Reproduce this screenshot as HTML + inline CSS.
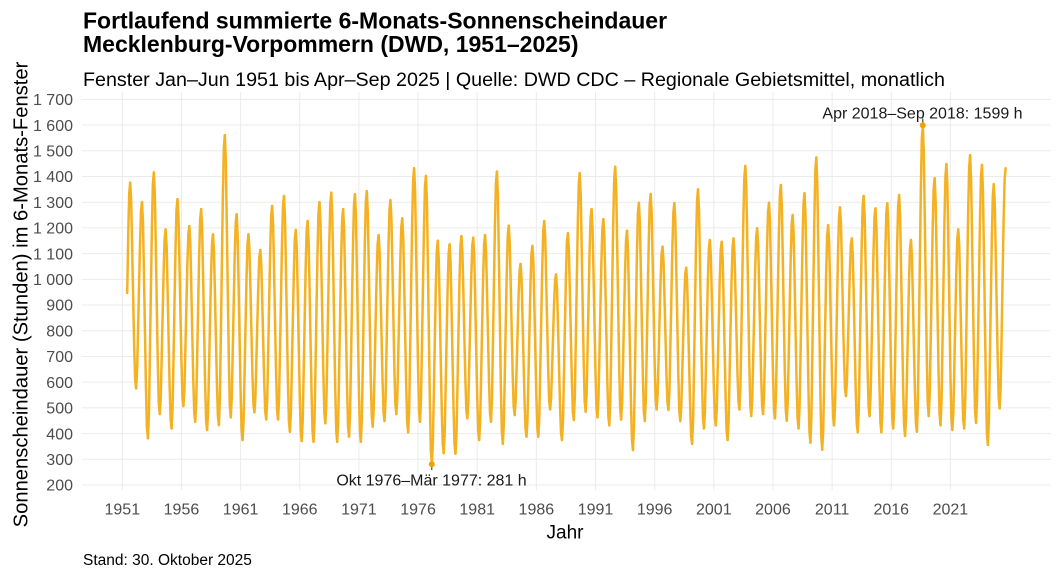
<!DOCTYPE html>
<html><head><meta charset="utf-8"><style>
html,body{margin:0;padding:0;background:#fff;}
svg{display:block;font-family:"Liberation Sans",Arial,sans-serif;}
.g line{stroke:#EBEBEB;stroke-width:1;}
.s polyline{fill:none;stroke:#F4B223;stroke-width:2.5;vector-effect:non-scaling-stroke;stroke-linejoin:round;stroke-linecap:round;}
.yt text{font-size:16px;fill:#4D4D4D;text-anchor:end;}
.xt text{font-size:16px;fill:#4D4D4D;text-anchor:middle;}
</style></head><body>
<svg width="1060" height="577" viewBox="0 0 1060 577" xmlns="http://www.w3.org/2000/svg">
<rect width="1060" height="577" fill="#fff"/>
<g class="g">
<line x1="81.7" x2="1050.7" y1="99.35" y2="99.35"/>
<line x1="81.7" x2="1050.7" y1="125.06" y2="125.06"/>
<line x1="81.7" x2="1050.7" y1="150.77" y2="150.77"/>
<line x1="81.7" x2="1050.7" y1="176.48" y2="176.48"/>
<line x1="81.7" x2="1050.7" y1="202.19" y2="202.19"/>
<line x1="81.7" x2="1050.7" y1="227.9" y2="227.9"/>
<line x1="81.7" x2="1050.7" y1="253.61" y2="253.61"/>
<line x1="81.7" x2="1050.7" y1="279.32" y2="279.32"/>
<line x1="81.7" x2="1050.7" y1="305.03" y2="305.03"/>
<line x1="81.7" x2="1050.7" y1="330.74" y2="330.74"/>
<line x1="81.7" x2="1050.7" y1="356.45" y2="356.45"/>
<line x1="81.7" x2="1050.7" y1="382.16" y2="382.16"/>
<line x1="81.7" x2="1050.7" y1="407.87" y2="407.87"/>
<line x1="81.7" x2="1050.7" y1="433.58" y2="433.58"/>
<line x1="81.7" x2="1050.7" y1="459.29" y2="459.29"/>
<line x1="81.7" x2="1050.7" y1="485" y2="485"/>
<line y1="92" y2="490" x1="122.3" x2="122.3"/>
<line y1="92" y2="490" x1="181.45" x2="181.45"/>
<line y1="92" y2="490" x1="240.6" x2="240.6"/>
<line y1="92" y2="490" x1="299.75" x2="299.75"/>
<line y1="92" y2="490" x1="358.9" x2="358.9"/>
<line y1="92" y2="490" x1="418.05" x2="418.05"/>
<line y1="92" y2="490" x1="477.2" x2="477.2"/>
<line y1="92" y2="490" x1="536.35" x2="536.35"/>
<line y1="92" y2="490" x1="595.5" x2="595.5"/>
<line y1="92" y2="490" x1="654.65" x2="654.65"/>
<line y1="92" y2="490" x1="713.8" x2="713.8"/>
<line y1="92" y2="490" x1="772.95" x2="772.95"/>
<line y1="92" y2="490" x1="832.1" x2="832.1"/>
<line y1="92" y2="490" x1="891.25" x2="891.25"/>
<line y1="92" y2="490" x1="950.4" x2="950.4"/>
</g>

<g class="s">
<g transform="translate(122.3,0)"><polyline transform="translate(1.97,431.01) scale(1,248.36)" points="2.958,-.556 3.943,-.787 4.929,-.955 5.915,-1"/><polyline transform="translate(7.89,388.33) scale(1,205.68)" points="0,-1 .986,-.91 1.972,-.685 2.958,-.444 3.943,-.213 4.929,-.045 5.915,0"/></g>
<g transform="translate(134.13,0)"><polyline transform="translate(1.97,388.33) scale(1,186.14)" points="0,0 .986,-.09 1.972,-.315 2.958,-.556 3.943,-.787 4.929,-.955 5.915,-1"/><polyline transform="translate(7.89,438.21) scale(1,236.02)" points="0,-1 .986,-.91 1.972,-.685 2.958,-.444 3.943,-.213 4.929,-.045 5.915,0"/></g>
<g transform="translate(145.96,0)"><polyline transform="translate(1.97,438.21) scale(1,265.84)" points="0,0 .986,-.09 1.972,-.315 2.958,-.556 3.943,-.787 4.929,-.955 5.915,-1"/><polyline transform="translate(7.89,414.04) scale(1,241.67)" points="0,-1 .986,-.91 1.972,-.685 2.958,-.444 3.943,-.213 4.929,-.045 5.915,0"/></g>
<g transform="translate(157.79,0)"><polyline transform="translate(1.97,414.04) scale(1,184.6)" points="0,0 .986,-.09 1.972,-.315 2.958,-.556 3.943,-.787 4.929,-.955 5.915,-1"/><polyline transform="translate(7.89,428.44) scale(1,199)" points="0,-1 .986,-.91 1.972,-.685 2.958,-.444 3.943,-.213 4.929,-.045 5.915,0"/></g>
<g transform="translate(169.62,0)"><polyline transform="translate(1.97,428.44) scale(1,229.34)" points="0,0 .986,-.09 1.972,-.315 2.958,-.556 3.943,-.787 4.929,-.955 5.915,-1"/><polyline transform="translate(7.89,406.07) scale(1,206.97)" points="0,-1 .986,-.91 1.972,-.685 2.958,-.444 3.943,-.213 4.929,-.045 5.915,0"/></g>
<g transform="translate(181.45,0)"><polyline transform="translate(1.97,406.07) scale(1,179.97)" points="0,0 .986,-.09 1.972,-.315 2.958,-.556 3.943,-.787 4.929,-.955 5.915,-1"/><polyline transform="translate(7.89,421.75) scale(1,195.65)" points="0,-1 .986,-.91 1.972,-.685 2.958,-.444 3.943,-.213 4.929,-.045 5.915,0"/></g>
<g transform="translate(193.28,0)"><polyline transform="translate(1.97,421.75) scale(1,212.62)" points="0,0 .986,-.09 1.972,-.315 2.958,-.556 3.943,-.787 4.929,-.955 5.915,-1"/><polyline transform="translate(7.89,429.98) scale(1,220.85)" points="0,-1 .986,-.91 1.972,-.685 2.958,-.444 3.943,-.213 4.929,-.045 5.915,0"/></g>
<g transform="translate(205.11,0)"><polyline transform="translate(1.97,429.98) scale(1,195.65)" points="0,0 .986,-.09 1.972,-.315 2.958,-.556 3.943,-.787 4.929,-.955 5.915,-1"/><polyline transform="translate(7.89,425.1) scale(1,190.77)" points="0,-1 .986,-.91 1.972,-.685 2.958,-.444 3.943,-.213 4.929,-.045 5.915,0"/></g>
<g transform="translate(216.94,0)"><polyline transform="translate(1.97,425.1) scale(1,290.01)" points="0,0 .986,-.09 1.972,-.315 2.958,-.556 3.943,-.787 4.929,-.955 5.915,-1"/><polyline transform="translate(7.89,417.38) scale(1,282.29)" points="0,-1 .986,-.91 1.972,-.685 2.958,-.444 3.943,-.213 4.929,-.045 5.915,0"/></g>
<g transform="translate(228.77,0)"><polyline transform="translate(1.97,417.38) scale(1,203.11)" points="0,0 .986,-.09 1.972,-.315 2.958,-.556 3.943,-.787 4.929,-.955 5.915,-1"/><polyline transform="translate(7.89,440.01) scale(1,225.74)" points="0,-1 .986,-.91 1.972,-.685 2.958,-.444 3.943,-.213 4.929,-.045 5.915,0"/></g>
<g transform="translate(240.6,0)"><polyline transform="translate(1.97,440.01) scale(1,205.68)" points="0,0 .986,-.09 1.972,-.315 2.958,-.556 3.943,-.787 4.929,-.955 5.915,-1"/><polyline transform="translate(7.89,412.24) scale(1,177.91)" points="0,-1 .986,-.91 1.972,-.685 2.958,-.444 3.943,-.213 4.929,-.045 5.915,0"/></g>
<g transform="translate(252.43,0)"><polyline transform="translate(1.97,412.24) scale(1,162.23)" points="0,0 .986,-.09 1.972,-.315 2.958,-.556 3.943,-.787 4.929,-.955 5.915,-1"/><polyline transform="translate(7.89,419.44) scale(1,169.43)" points="0,-1 .986,-.91 1.972,-.685 2.958,-.444 3.943,-.213 4.929,-.045 5.915,0"/></g>
<g transform="translate(264.26,0)"><polyline transform="translate(1.97,419.44) scale(1,213.39)" points="0,0 .986,-.09 1.972,-.315 2.958,-.556 3.943,-.787 4.929,-.955 5.915,-1"/><polyline transform="translate(7.89,419.44) scale(1,213.39)" points="0,-1 .986,-.91 1.972,-.685 2.958,-.444 3.943,-.213 4.929,-.045 5.915,0"/></g>
<g transform="translate(276.09,0)"><polyline transform="translate(1.97,419.44) scale(1,223.42)" points="0,0 .986,-.09 1.972,-.315 2.958,-.556 3.943,-.787 4.929,-.955 5.915,-1"/><polyline transform="translate(7.89,431.78) scale(1,235.76)" points="0,-1 .986,-.91 1.972,-.685 2.958,-.444 3.943,-.213 4.929,-.045 5.915,0"/></g>
<g transform="translate(287.92,0)"><polyline transform="translate(1.97,431.78) scale(1,201.82)" points="0,0 .986,-.09 1.972,-.315 2.958,-.556 3.943,-.787 4.929,-.955 5.915,-1"/><polyline transform="translate(7.89,441.04) scale(1,211.08)" points="0,-1 .986,-.91 1.972,-.685 2.958,-.444 3.943,-.213 4.929,-.045 5.915,0"/></g>
<g transform="translate(299.75,0)"><polyline transform="translate(1.97,441.04) scale(1,220.08)" points="0,0 .986,-.09 1.972,-.315 2.958,-.556 3.943,-.787 4.929,-.955 5.915,-1"/><polyline transform="translate(7.89,441.81) scale(1,220.85)" points="0,-1 .986,-.91 1.972,-.685 2.958,-.444 3.943,-.213 4.929,-.045 5.915,0"/></g>
<g transform="translate(311.58,0)"><polyline transform="translate(1.97,441.81) scale(1,239.62)" points="0,0 .986,-.09 1.972,-.315 2.958,-.556 3.943,-.787 4.929,-.955 5.915,-1"/><polyline transform="translate(7.89,423.3) scale(1,221.11)" points="0,-1 .986,-.91 1.972,-.685 2.958,-.444 3.943,-.213 4.929,-.045 5.915,0"/></g>
<g transform="translate(323.41,0)"><polyline transform="translate(1.97,423.3) scale(1,230.62)" points="0,0 .986,-.09 1.972,-.315 2.958,-.556 3.943,-.787 4.929,-.955 5.915,-1"/><polyline transform="translate(7.89,441.81) scale(1,249.13)" points="0,-1 .986,-.91 1.972,-.685 2.958,-.444 3.943,-.213 4.929,-.045 5.915,0"/></g>
<g transform="translate(335.24,0)"><polyline transform="translate(1.97,441.81) scale(1,232.68)" points="0,0 .986,-.09 1.972,-.315 2.958,-.556 3.943,-.787 4.929,-.955 5.915,-1"/><polyline transform="translate(7.89,436.67) scale(1,227.54)" points="0,-1 .986,-.91 1.972,-.685 2.958,-.444 3.943,-.213 4.929,-.045 5.915,0"/></g>
<g transform="translate(347.07,0)"><polyline transform="translate(1.97,436.67) scale(1,242.45)" points="0,0 .986,-.09 1.972,-.315 2.958,-.556 3.943,-.787 4.929,-.955 5.915,-1"/><polyline transform="translate(7.89,441.81) scale(1,247.59)" points="0,-1 .986,-.91 1.972,-.685 2.958,-.444 3.943,-.213 4.929,-.045 5.915,0"/></g>
<g transform="translate(358.9,0)"><polyline transform="translate(1.97,441.81) scale(1,250.68)" points="0,0 .986,-.09 1.972,-.315 2.958,-.556 3.943,-.787 4.929,-.955 5.915,-1"/><polyline transform="translate(7.89,426.64) scale(1,235.51)" points="0,-1 .986,-.91 1.972,-.685 2.958,-.444 3.943,-.213 4.929,-.045 5.915,0"/></g>
<g transform="translate(370.73,0)"><polyline transform="translate(1.97,426.64) scale(1,191.54)" points="0,0 .986,-.09 1.972,-.315 2.958,-.556 3.943,-.787 4.929,-.955 5.915,-1"/><polyline transform="translate(7.89,420.98) scale(1,185.88)" points="0,-1 .986,-.91 1.972,-.685 2.958,-.444 3.943,-.213 4.929,-.045 5.915,0"/></g>
<g transform="translate(382.56,0)"><polyline transform="translate(1.97,420.98) scale(1,220.85)" points="0,0 .986,-.09 1.972,-.315 2.958,-.556 3.943,-.787 4.929,-.955 5.915,-1"/><polyline transform="translate(7.89,414.04) scale(1,213.91)" points="0,-1 .986,-.91 1.972,-.685 2.958,-.444 3.943,-.213 4.929,-.045 5.915,0"/></g>
<g transform="translate(394.39,0)"><polyline transform="translate(1.97,414.04) scale(1,195.65)" points="0,0 .986,-.09 1.972,-.315 2.958,-.556 3.943,-.787 4.929,-.955 5.915,-1"/><polyline transform="translate(7.89,432.29) scale(1,213.9)" points="0,-1 .986,-.91 1.972,-.685 2.958,-.444 3.943,-.213 4.929,-.045 5.915,0"/></g>
<g transform="translate(406.22,0)"><polyline transform="translate(1.97,432.29) scale(1,264.04)" points="0,0 .986,-.09 1.972,-.315 2.958,-.556 3.943,-.787 4.929,-.955 5.915,-1"/><polyline transform="translate(7.89,421.75) scale(1,253.5)" points="0,-1 .986,-.91 1.972,-.685 2.958,-.444 3.943,-.213 4.929,-.045 5.915,0"/></g>
<g transform="translate(418.05,0)"><polyline transform="translate(1.97,421.75) scale(1,245.78)" points="0,0 .986,-.09 1.972,-.315 2.958,-.556 3.943,-.787 4.929,-.955 5.915,-1"/><polyline transform="translate(7.89,464.17) scale(1,288.2)" points="0,-1 .986,-.91 1.972,-.685 2.958,-.444 3.943,-.213 4.929,-.045 5.915,0"/></g>
<g transform="translate(429.88,0)"><polyline transform="translate(1.97,464.17) scale(1,223.42)" points="0,0 .986,-.09 1.972,-.315 2.958,-.556 3.943,-.787 4.929,-.955 5.915,-1"/><polyline transform="translate(7.89,453.12) scale(1,212.37)" points="0,-1 .986,-.91 1.972,-.685 2.958,-.444 3.943,-.213 4.929,-.045 5.915,0"/></g>
<g transform="translate(441.71,0)"><polyline transform="translate(1.97,453.12) scale(1,208.77)" points="0,0 .986,-.09 1.972,-.315 2.958,-.556 3.943,-.787 4.929,-.955 5.915,-1"/><polyline transform="translate(7.89,453.63) scale(1,209.28)" points="0,-1 .986,-.91 1.972,-.685 2.958,-.444 3.943,-.213 4.929,-.045 5.915,0"/></g>
<g transform="translate(453.54,0)"><polyline transform="translate(1.97,453.63) scale(1,217.5)" points="0,0 .986,-.09 1.972,-.315 2.958,-.556 3.943,-.787 4.929,-.955 5.915,-1"/><polyline transform="translate(7.89,418.41) scale(1,182.28)" points="0,-1 .986,-.91 1.972,-.685 2.958,-.444 3.943,-.213 4.929,-.045 5.915,0"/></g>
<g transform="translate(465.37,0)"><polyline transform="translate(1.97,418.41) scale(1,180.74)" points="0,0 .986,-.09 1.972,-.315 2.958,-.556 3.943,-.787 4.929,-.955 5.915,-1"/><polyline transform="translate(7.89,440.01) scale(1,202.34)" points="0,-1 .986,-.91 1.972,-.685 2.958,-.444 3.943,-.213 4.929,-.045 5.915,0"/></g>
<g transform="translate(477.2,0)"><polyline transform="translate(1.97,440.01) scale(1,204.91)" points="0,0 .986,-.09 1.972,-.315 2.958,-.556 3.943,-.787 4.929,-.955 5.915,-1"/><polyline transform="translate(7.89,421.75) scale(1,186.65)" points="0,-1 .986,-.91 1.972,-.685 2.958,-.444 3.943,-.213 4.929,-.045 5.915,0"/></g>
<g transform="translate(489.03,0)"><polyline transform="translate(1.97,421.75) scale(1,250.15)" points="0,0 .986,-.09 1.972,-.315 2.958,-.556 3.943,-.787 4.929,-.955 5.915,-1"/><polyline transform="translate(7.89,443.86) scale(1,272.26)" points="0,-1 .986,-.91 1.972,-.685 2.958,-.444 3.943,-.213 4.929,-.045 5.915,0"/></g>
<g transform="translate(500.86,0)"><polyline transform="translate(1.97,443.86) scale(1,218.28)" points="0,0 .986,-.09 1.972,-.315 2.958,-.556 3.943,-.787 4.929,-.955 5.915,-1"/><polyline transform="translate(7.89,415.07) scale(1,189.49)" points="0,-1 .986,-.91 1.972,-.685 2.958,-.444 3.943,-.213 4.929,-.045 5.915,0"/></g>
<g transform="translate(512.69,0)"><polyline transform="translate(1.97,415.07) scale(1,151.18)" points="0,0 .986,-.09 1.972,-.315 2.958,-.556 3.943,-.787 4.929,-.955 5.915,-1"/><polyline transform="translate(7.89,436.67) scale(1,172.78)" points="0,-1 .986,-.91 1.972,-.685 2.958,-.444 3.943,-.213 4.929,-.045 5.915,0"/></g>
<g transform="translate(524.52,0)"><polyline transform="translate(1.97,436.67) scale(1,190.77)" points="0,0 .986,-.09 1.972,-.315 2.958,-.556 3.943,-.787 4.929,-.955 5.915,-1"/><polyline transform="translate(7.89,436.67) scale(1,190.77)" points="0,-1 .986,-.91 1.972,-.685 2.958,-.444 3.943,-.213 4.929,-.045 5.915,0"/></g>
<g transform="translate(536.35,0)"><polyline transform="translate(1.97,436.67) scale(1,215.71)" points="0,0 .986,-.09 1.972,-.315 2.958,-.556 3.943,-.787 4.929,-.955 5.915,-1"/><polyline transform="translate(7.89,409.41) scale(1,188.45)" points="0,-1 .986,-.91 1.972,-.685 2.958,-.444 3.943,-.213 4.929,-.045 5.915,0"/></g>
<g transform="translate(548.18,0)"><polyline transform="translate(1.97,409.41) scale(1,134.97)" points="0,0 .986,-.09 1.972,-.315 2.958,-.556 3.943,-.787 4.929,-.955 5.915,-1"/><polyline transform="translate(7.89,440.01) scale(1,165.57)" points="0,-1 .986,-.91 1.972,-.685 2.958,-.444 3.943,-.213 4.929,-.045 5.915,0"/></g>
<g transform="translate(560.01,0)"><polyline transform="translate(1.97,440.01) scale(1,206.71)" points="0,0 .986,-.09 1.972,-.315 2.958,-.556 3.943,-.787 4.929,-.955 5.915,-1"/><polyline transform="translate(7.89,419.95) scale(1,186.65)" points="0,-1 .986,-.91 1.972,-.685 2.958,-.444 3.943,-.213 4.929,-.045 5.915,0"/></g>
<g transform="translate(571.84,0)"><polyline transform="translate(1.97,419.95) scale(1,246.81)" points="0,0 .986,-.09 1.972,-.315 2.958,-.556 3.943,-.787 4.929,-.955 5.915,-1"/><polyline transform="translate(7.89,411.73) scale(1,238.59)" points="0,-1 .986,-.91 1.972,-.685 2.958,-.444 3.943,-.213 4.929,-.045 5.915,0"/></g>
<g transform="translate(583.67,0)"><polyline transform="translate(1.97,411.73) scale(1,202.6)" points="0,0 .986,-.09 1.972,-.315 2.958,-.556 3.943,-.787 4.929,-.955 5.915,-1"/><polyline transform="translate(7.89,417.38) scale(1,208.25)" points="0,-1 .986,-.91 1.972,-.685 2.958,-.444 3.943,-.213 4.929,-.045 5.915,0"/></g>
<g transform="translate(595.5,0)"><polyline transform="translate(1.97,417.38) scale(1,198.22)" points="0,0 .986,-.09 1.972,-.315 2.958,-.556 3.943,-.787 4.929,-.955 5.915,-1"/><polyline transform="translate(7.89,425.35) scale(1,206.19)" points="0,-1 .986,-.91 1.972,-.685 2.958,-.444 3.943,-.213 4.929,-.045 5.915,0"/></g>
<g transform="translate(607.33,0)"><polyline transform="translate(1.97,425.35) scale(1,258.64)" points="0,0 .986,-.09 1.972,-.315 2.958,-.556 3.943,-.787 4.929,-.955 5.915,-1"/><polyline transform="translate(7.89,419.44) scale(1,252.73)" points="0,-1 .986,-.91 1.972,-.685 2.958,-.444 3.943,-.213 4.929,-.045 5.915,0"/></g>
<g transform="translate(619.16,0)"><polyline transform="translate(1.97,419.44) scale(1,188.71)" points="0,0 .986,-.09 1.972,-.315 2.958,-.556 3.943,-.787 4.929,-.955 5.915,-1"/><polyline transform="translate(7.89,450.03) scale(1,219.3)" points="0,-1 .986,-.91 1.972,-.685 2.958,-.444 3.943,-.213 4.929,-.045 5.915,0"/></g>
<g transform="translate(630.99,0)"><polyline transform="translate(1.97,450.03) scale(1,247.33)" points="0,0 .986,-.09 1.972,-.315 2.958,-.556 3.943,-.787 4.929,-.955 5.915,-1"/><polyline transform="translate(7.89,420.98) scale(1,218.28)" points="0,-1 .986,-.91 1.972,-.685 2.958,-.444 3.943,-.213 4.929,-.045 5.915,0"/></g>
<g transform="translate(642.82,0)"><polyline transform="translate(1.97,420.98) scale(1,227.02)" points="0,0 .986,-.09 1.972,-.315 2.958,-.556 3.943,-.787 4.929,-.955 5.915,-1"/><polyline transform="translate(7.89,409.41) scale(1,215.45)" points="0,-1 .986,-.91 1.972,-.685 2.958,-.444 3.943,-.213 4.929,-.045 5.915,0"/></g>
<g transform="translate(654.65,0)"><polyline transform="translate(1.97,409.41) scale(1,162.74)" points="0,0 .986,-.09 1.972,-.315 2.958,-.556 3.943,-.787 4.929,-.955 5.915,-1"/><polyline transform="translate(7.89,409.93) scale(1,163.26)" points="0,-1 .986,-.91 1.972,-.685 2.958,-.444 3.943,-.213 4.929,-.045 5.915,0"/></g>
<g transform="translate(666.48,0)"><polyline transform="translate(1.97,409.93) scale(1,206.71)" points="0,0 .986,-.09 1.972,-.315 2.958,-.556 3.943,-.787 4.929,-.955 5.915,-1"/><polyline transform="translate(7.89,420.98) scale(1,217.76)" points="0,-1 .986,-.91 1.972,-.685 2.958,-.444 3.943,-.213 4.929,-.045 5.915,0"/></g>
<g transform="translate(678.31,0)"><polyline transform="translate(1.97,420.98) scale(1,153.23)" points="0,0 .986,-.09 1.972,-.315 2.958,-.556 3.943,-.787 4.929,-.955 5.915,-1"/><polyline transform="translate(7.89,443.86) scale(1,176.11)" points="0,-1 .986,-.91 1.972,-.685 2.958,-.444 3.943,-.213 4.929,-.045 5.915,0"/></g>
<g transform="translate(690.14,0)"><polyline transform="translate(1.97,443.86) scale(1,254.53)" points="0,0 .986,-.09 1.972,-.315 2.958,-.556 3.943,-.787 4.929,-.955 5.915,-1"/><polyline transform="translate(7.89,428.44) scale(1,239.11)" points="0,-1 .986,-.91 1.972,-.685 2.958,-.444 3.943,-.213 4.929,-.045 5.915,0"/></g>
<g transform="translate(701.97,0)"><polyline transform="translate(1.97,428.44) scale(1,188.46)" points="0,0 .986,-.09 1.972,-.315 2.958,-.556 3.943,-.787 4.929,-.955 5.915,-1"/><polyline transform="translate(7.89,425.35) scale(1,185.37)" points="0,-1 .986,-.91 1.972,-.685 2.958,-.444 3.943,-.213 4.929,-.045 5.915,0"/></g>
<g transform="translate(713.8,0)"><polyline transform="translate(1.97,425.35) scale(1,183.57)" points="0,0 .986,-.09 1.972,-.315 2.958,-.556 3.943,-.787 4.929,-.955 5.915,-1"/><polyline transform="translate(7.89,440.01) scale(1,198.23)" points="0,-1 .986,-.91 1.972,-.685 2.958,-.444 3.943,-.213 4.929,-.045 5.915,0"/></g>
<g transform="translate(725.63,0)"><polyline transform="translate(1.97,440.01) scale(1,201.57)" points="0,0 .986,-.09 1.972,-.315 2.958,-.556 3.943,-.787 4.929,-.955 5.915,-1"/><polyline transform="translate(7.89,409.41) scale(1,170.97)" points="0,-1 .986,-.91 1.972,-.685 2.958,-.444 3.943,-.213 4.929,-.045 5.915,0"/></g>
<g transform="translate(737.46,0)"><polyline transform="translate(1.97,409.41) scale(1,243.47)" points="0,0 .986,-.09 1.972,-.315 2.958,-.556 3.943,-.787 4.929,-.955 5.915,-1"/><polyline transform="translate(7.89,416.1) scale(1,250.16)" points="0,-1 .986,-.91 1.972,-.685 2.958,-.444 3.943,-.213 4.929,-.045 5.915,0"/></g>
<g transform="translate(749.29,0)"><polyline transform="translate(1.97,416.1) scale(1,187.69)" points="0,0 .986,-.09 1.972,-.315 2.958,-.556 3.943,-.787 4.929,-.955 5.915,-1"/><polyline transform="translate(7.89,414.04) scale(1,185.63)" points="0,-1 .986,-.91 1.972,-.685 2.958,-.444 3.943,-.213 4.929,-.045 5.915,0"/></g>
<g transform="translate(761.12,0)"><polyline transform="translate(1.97,414.04) scale(1,211.34)" points="0,0 .986,-.09 1.972,-.315 2.958,-.556 3.943,-.787 4.929,-.955 5.915,-1"/><polyline transform="translate(7.89,418.41) scale(1,215.71)" points="0,-1 .986,-.91 1.972,-.685 2.958,-.444 3.943,-.213 4.929,-.045 5.915,0"/></g>
<g transform="translate(772.95,0)"><polyline transform="translate(1.97,418.41) scale(1,233.45)" points="0,0 .986,-.09 1.972,-.315 2.958,-.556 3.943,-.787 4.929,-.955 5.915,-1"/><polyline transform="translate(7.89,420.72) scale(1,235.76)" points="0,-1 .986,-.91 1.972,-.685 2.958,-.444 3.943,-.213 4.929,-.045 5.915,0"/></g>
<g transform="translate(784.78,0)"><polyline transform="translate(1.97,420.72) scale(1,205.68)" points="0,0 .986,-.09 1.972,-.315 2.958,-.556 3.943,-.787 4.929,-.955 5.915,-1"/><polyline transform="translate(7.89,428.44) scale(1,213.4)" points="0,-1 .986,-.91 1.972,-.685 2.958,-.444 3.943,-.213 4.929,-.045 5.915,0"/></g>
<g transform="translate(796.61,0)"><polyline transform="translate(1.97,428.44) scale(1,235.25)" points="0,0 .986,-.09 1.972,-.315 2.958,-.556 3.943,-.787 4.929,-.955 5.915,-1"/><polyline transform="translate(7.89,442.58) scale(1,249.39)" points="0,-1 .986,-.91 1.972,-.685 2.958,-.444 3.943,-.213 4.929,-.045 5.915,0"/></g>
<g transform="translate(808.44,0)"><polyline transform="translate(1.97,442.58) scale(1,285.13)" points="0,0 .986,-.09 1.972,-.315 2.958,-.556 3.943,-.787 4.929,-.955 5.915,-1"/><polyline transform="translate(7.89,449.78) scale(1,292.33)" points="0,-1 .986,-.91 1.972,-.685 2.958,-.444 3.943,-.213 4.929,-.045 5.915,0"/></g>
<g transform="translate(820.27,0)"><polyline transform="translate(1.97,449.78) scale(1,224.71)" points="0,0 .986,-.09 1.972,-.315 2.958,-.556 3.943,-.787 4.929,-.955 5.915,-1"/><polyline transform="translate(7.89,425.35) scale(1,200.28)" points="0,-1 .986,-.91 1.972,-.685 2.958,-.444 3.943,-.213 4.929,-.045 5.915,0"/></g>
<g transform="translate(832.1,0)"><polyline transform="translate(1.97,425.35) scale(1,218.02)" points="0,0 .986,-.09 1.972,-.315 2.958,-.556 3.943,-.787 4.929,-.955 5.915,-1"/><polyline transform="translate(7.89,396.04) scale(1,188.71)" points="0,-1 .986,-.91 1.972,-.685 2.958,-.444 3.943,-.213 4.929,-.045 5.915,0"/></g>
<g transform="translate(843.93,0)"><polyline transform="translate(1.97,396.04) scale(1,157.6)" points="0,0 .986,-.09 1.972,-.315 2.958,-.556 3.943,-.787 4.929,-.955 5.915,-1"/><polyline transform="translate(7.89,432.29) scale(1,193.85)" points="0,-1 .986,-.91 1.972,-.685 2.958,-.444 3.943,-.213 4.929,-.045 5.915,0"/></g>
<g transform="translate(855.76,0)"><polyline transform="translate(1.97,432.29) scale(1,236.27)" points="0,0 .986,-.09 1.972,-.315 2.958,-.556 3.943,-.787 4.929,-.955 5.915,-1"/><polyline transform="translate(7.89,416.1) scale(1,220.08)" points="0,-1 .986,-.91 1.972,-.685 2.958,-.444 3.943,-.213 4.929,-.045 5.915,0"/></g>
<g transform="translate(867.59,0)"><polyline transform="translate(1.97,416.1) scale(1,207.74)" points="0,0 .986,-.09 1.972,-.315 2.958,-.556 3.943,-.787 4.929,-.955 5.915,-1"/><polyline transform="translate(7.89,432.29) scale(1,223.93)" points="0,-1 .986,-.91 1.972,-.685 2.958,-.444 3.943,-.213 4.929,-.045 5.915,0"/></g>
<g transform="translate(879.42,0)"><polyline transform="translate(1.97,432.29) scale(1,229.07)" points="0,0 .986,-.09 1.972,-.315 2.958,-.556 3.943,-.787 4.929,-.955 5.915,-1"/><polyline transform="translate(7.89,428.44) scale(1,225.22)" points="0,-1 .986,-.91 1.972,-.685 2.958,-.444 3.943,-.213 4.929,-.045 5.915,0"/></g>
<g transform="translate(891.25,0)"><polyline transform="translate(1.97,428.44) scale(1,233.45)" points="0,0 .986,-.09 1.972,-.315 2.958,-.556 3.943,-.787 4.929,-.955 5.915,-1"/><polyline transform="translate(7.89,435.89) scale(1,240.9)" points="0,-1 .986,-.91 1.972,-.685 2.958,-.444 3.943,-.213 4.929,-.045 5.915,0"/></g>
<g transform="translate(903.08,0)"><polyline transform="translate(1.97,435.89) scale(1,195.91)" points="0,0 .986,-.09 1.972,-.315 2.958,-.556 3.943,-.787 4.929,-.955 5.915,-1"/><polyline transform="translate(7.89,431.78) scale(1,191.8)" points="0,-1 .986,-.91 1.972,-.685 2.958,-.444 3.943,-.213 4.929,-.045 5.915,0"/></g>
<g transform="translate(914.91,0)"><polyline transform="translate(1.97,431.78) scale(1,306.46)" points="0,0 .986,-.09 1.972,-.315 2.958,-.556 3.943,-.787 4.929,-.955 5.915,-1"/><polyline transform="translate(7.89,416.1) scale(1,290.78)" points="0,-1 .986,-.91 1.972,-.685 2.958,-.444 3.943,-.213 4.929,-.045 5.915,0"/></g>
<g transform="translate(926.74,0)"><polyline transform="translate(1.97,416.1) scale(1,237.82)" points="0,0 .986,-.09 1.972,-.315 2.958,-.556 3.943,-.787 4.929,-.955 5.915,-1"/><polyline transform="translate(7.89,425.35) scale(1,247.07)" points="0,-1 .986,-.91 1.972,-.685 2.958,-.444 3.943,-.213 4.929,-.045 5.915,0"/></g>
<g transform="translate(938.57,0)"><polyline transform="translate(1.97,425.35) scale(1,261.21)" points="0,0 .986,-.09 1.972,-.315 2.958,-.556 3.943,-.787 4.929,-.955 5.915,-1"/><polyline transform="translate(7.89,429.98) scale(1,265.84)" points="0,-1 .986,-.91 1.972,-.685 2.958,-.444 3.943,-.213 4.929,-.045 5.915,0"/></g>
<g transform="translate(950.4,0)"><polyline transform="translate(1.97,429.98) scale(1,200.54)" points="0,0 .986,-.09 1.972,-.315 2.958,-.556 3.943,-.787 4.929,-.955 5.915,-1"/><polyline transform="translate(7.89,428.44) scale(1,199)" points="0,-1 .986,-.91 1.972,-.685 2.958,-.444 3.943,-.213 4.929,-.045 5.915,0"/></g>
<g transform="translate(962.23,0)"><polyline transform="translate(1.97,428.44) scale(1,273.3)" points="0,0 .986,-.09 1.972,-.315 2.958,-.556 3.943,-.787 4.929,-.955 5.915,-1"/><polyline transform="translate(7.89,422.78) scale(1,267.64)" points="0,-1 .986,-.91 1.972,-.685 2.958,-.444 3.943,-.213 4.929,-.045 5.915,0"/></g>
<g transform="translate(974.06,0)"><polyline transform="translate(1.97,422.78) scale(1,257.87)" points="0,0 .986,-.09 1.972,-.315 2.958,-.556 3.943,-.787 4.929,-.955 5.915,-1"/><polyline transform="translate(7.89,444.89) scale(1,279.98)" points="0,-1 .986,-.91 1.972,-.685 2.958,-.444 3.943,-.213 4.929,-.045 5.915,0"/></g>
<g transform="translate(985.89,0)"><polyline transform="translate(1.97,444.89) scale(1,260.7)" points="0,0 .986,-.09 1.972,-.315 2.958,-.556 3.943,-.787 4.929,-.955 5.915,-1"/><polyline transform="translate(7.89,408.38) scale(1,224.19)" points="0,-1 .986,-.91 1.972,-.685 2.958,-.444 3.943,-.213 4.929,-.045 5.915,0"/></g>
<g transform="translate(997.72,0)"><polyline transform="translate(1.97,408.38) scale(1,240.13)" points="0,0 .986,-.09 1.972,-.315 2.958,-.556 3.943,-.787 4.929,-.955 5.915,-1"/></g>
</g>

<!-- highlight points -->
<line x1="922.8" y1="118.5" x2="922.8" y2="124" stroke="#222" stroke-width="1"/>
<circle cx="922.8" cy="125.3" r="3" fill="#EFA300"/>
<line x1="431.8" y1="465" x2="431.8" y2="470" stroke="#222" stroke-width="1"/>
<circle cx="431.8" cy="464.2" r="3" fill="#EFA300"/>
<text x="922.5" y="118.5" font-size="16" fill="#1a1a1a" text-anchor="middle">Apr 2018–Sep 2018: 1599 h</text>
<text x="431.5" y="485.5" font-size="16" fill="#1a1a1a" text-anchor="middle">Okt 1976–Mär 1977: 281 h</text>

<g class="yt">
<text x="73" y="105.1">1 700</text>
<text x="73" y="130.8">1 600</text>
<text x="73" y="156.5">1 500</text>
<text x="73" y="182.2">1 400</text>
<text x="73" y="207.9">1 300</text>
<text x="73" y="233.6">1 200</text>
<text x="73" y="259.3">1 100</text>
<text x="73" y="285">1 000</text>
<text x="73" y="310.7">900</text>
<text x="73" y="336.4">800</text>
<text x="73" y="362.2">700</text>
<text x="73" y="387.9">600</text>
<text x="73" y="413.6">500</text>
<text x="73" y="439.3">400</text>
<text x="73" y="465">300</text>
<text x="73" y="490.7">200</text>
</g>
<g class="xt">
<text x="122.3" y="514.5">1951</text>
<text x="181.45" y="514.5">1956</text>
<text x="240.6" y="514.5">1961</text>
<text x="299.75" y="514.5">1966</text>
<text x="358.9" y="514.5">1971</text>
<text x="418.05" y="514.5">1976</text>
<text x="477.2" y="514.5">1981</text>
<text x="536.35" y="514.5">1986</text>
<text x="595.5" y="514.5">1991</text>
<text x="654.65" y="514.5">1996</text>
<text x="713.8" y="514.5">2001</text>
<text x="772.95" y="514.5">2006</text>
<text x="832.1" y="514.5">2011</text>
<text x="891.25" y="514.5">2016</text>
<text x="950.4" y="514.5">2021</text>
</g>

<text x="565" y="538.5" font-size="19" fill="#000" text-anchor="middle">Jahr</text>
<text transform="translate(27.5,294.5) rotate(-90)" font-size="20.2" fill="#000" text-anchor="middle">Sonnenscheindauer (Stunden) im 6-Monats-Fenster</text>

<text x="83" y="28.5" font-size="23" font-weight="bold" fill="#000">Fortlaufend summierte 6-Monats-Sonnenscheindauer</text>
<text x="83" y="52" font-size="23" font-weight="bold" fill="#000">Mecklenburg-Vorpommern (DWD, 1951–2025)</text>
<text x="83" y="86" font-size="19.7" fill="#000">Fenster Jan–Jun 1951 bis Apr–Sep 2025 | Quelle: DWD CDC – Regionale Gebietsmittel, monatlich</text>
<text x="83" y="565" font-size="15.5" fill="#000">Stand: 30. Oktober 2025</text>
</svg>
</body></html>
